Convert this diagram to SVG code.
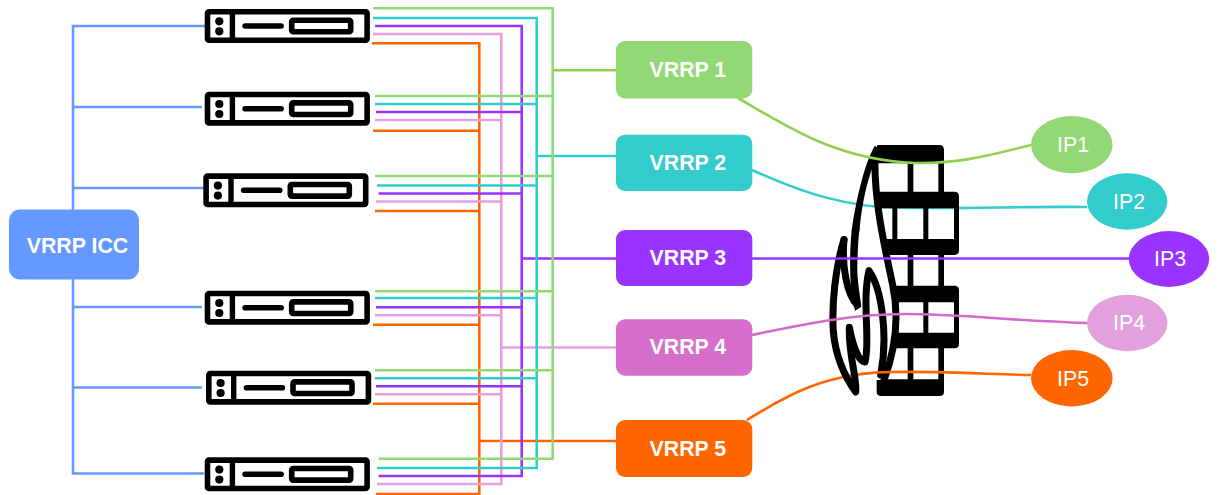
<svg xmlns="http://www.w3.org/2000/svg" xmlns:xlink="http://www.w3.org/1999/xlink" width="1218" height="495" viewBox="0 0 1218 495">
<style>
.ln{fill:none;stroke-width:2.6}
.cv{fill:none;stroke-width:2.6}
.t{font-family:"Liberation Sans",Arial,sans-serif;font-size:21.33px;fill:#fff}
.b{font-weight:bold}
.blk{fill:#000}
.fl{fill:none;stroke:#000;stroke-width:21;stroke-linecap:round;stroke-linejoin:round}
</style>
<defs>
<g id="srv">
<rect x="2.8" y="2.8" width="159.6" height="28.4" rx="1.5" fill="#fff" stroke="#000" stroke-width="5.6"/>
<rect x="25" y="3" width="5.4" height="28" fill="#000"/>
<circle cx="14.6" cy="12.3" r="4.1" fill="#000"/>
<circle cx="14.6" cy="22.3" r="4.1" fill="#000"/>
<rect x="37.6" y="14.2" width="41.6" height="5.6" rx="2.8" fill="#000"/>
<rect x="87" y="11.2" width="59" height="11.6" rx="1.5" fill="#fff" stroke="#000" stroke-width="5.6"/>
</g>
</defs>
<rect width="1218" height="495" fill="#fff"/>
<g id="connectors-back">
<path class="ln" stroke="#6699FF" d="M73,210V26H205M73,107H202M73,188H204M73,279V473.5H204M73,307H202M73,387.5H202"/>
<path class="ln" stroke="#FF6600" d="M372,43.3H479.3V494H376M373,130.7H479.3M375,211H479.3M373,324.7H479.3M373,403.7H479.3M479.3,441H616"/>
<path class="ln" stroke="#E6A0E0" d="M373,34H501.3V484H377M375,120H501.3M376,201.5H501.3M375,315.3H501.3M375,394.3H501.3M501.3,347.5H616"/>
<path class="ln" stroke="#9933FF" d="M375,26H521.7V476H378.7M376,112H521.7M378.7,193.5H521.7M376,307.3H521.7M376,386.3H521.7M521.7,258.5H616"/>
<path class="ln" stroke="#33CCCC" d="M373,18H536.7V468H377M375,104H536.7M377,185.5H536.7M375,298H536.7M375,378.3H536.7M536.7,156H616"/>
<path class="ln" stroke="#92D975" d="M373,8.3H552.7V458.7H378.7M375,96H552.7M375,176H552.7M375,291.3H552.7M375,370.3H552.7"/>
<path class="ln" stroke="#92D050" d="M552.7,70.3H616"/>
<path class="cv" stroke="#33CCCC" d="M752,170C790,187 830,203 880,207C940,210 1020,206 1087,207"/>
<path class="cv" stroke="#FF6600" d="M747,420C780,400 820,373 890,372"/>
</g>
<g id="server-1"><use href="#srv" xlink:href="#srv" x="204.7" y="9"/></g>
<g id="server-2"><use href="#srv" xlink:href="#srv" x="204.7" y="91.7"/></g>
<g id="server-3"><use href="#srv" xlink:href="#srv" x="203.3" y="173.3"/></g>
<g id="server-4"><use href="#srv" xlink:href="#srv" x="204.7" y="290.7"/></g>
<g id="server-5"><use href="#srv" xlink:href="#srv" x="206" y="370.7"/></g>
<g id="server-6"><use href="#srv" xlink:href="#srv" x="204.7" y="457.3"/></g>
<g id="firewall" transform="translate(820,135) scale(.33333)">
<path class="blk" fill-rule="evenodd" d="M172,30H358Q372,30 372,44V170H403Q417,170 417,184V346Q417,360 403,360H372V452H403Q417,452 417,466V626Q417,640 403,640H372V770Q372,783 358,783H184Q170,783 170,770V735H192C235,620 235,530 218,450C195,340 162,200 165,70Z
M174,85H263V170H174ZM280,85H355V170H280Z
M180,220H217V312H192ZM232,220H310V312H232ZM325,220H402V312H325Z
M205,360H263V452H224ZM280,360H355V452H280Z
M235,502H310V593H235ZM325,502H402V593H325Z
M225,640H263V733H200ZM280,640H355V733H280Z"/>
<path class="blk" d="M165,32C140,70 112,170 95,285C90,340 88,400 94,470L105,527L124,515C120,480 110,430 112,385C114,340 115,300 119,285C122,230 137,150 160,90L175,40Z"/>
<path class="fl" d="M72,314C45,400 35,510 40,590C48,680 85,740 107,771C112,730 85,660 88,577C100,640 118,680 135,681C152,620 125,500 147,407C185,460 205,600 182,720"/>
<path class="fl" d="M72,314C65,390 80,480 112,510"/>
<path class="fl" d="M165,70C162,200 195,340 218,450C235,530 235,620 192,735"/>
</g>
<g id="connectors-front">
<path class="cv" stroke="#92D050" d="M738,98C785,125 835,160 915,163C960,164 995,154 1031,145"/>
<path class="cv" stroke="#9933FF" d="M752,258.5H1129"/>
<path class="cv" stroke="#D36BCB" d="M752,335C800,325 850,314 905,314C960,314 1000,320 1087,323"/>
<path class="cv" stroke="#FF6600" d="M860,374C870,373 880,372 890,372C950,371 1000,375 1031,375"/>
</g>
<g id="vrrp-icc"><rect x="9" y="209.5" width="130" height="70" rx="11" fill="#6699FF"/><text class="t b" x="26.7" y="252.7">VRRP ICC</text></g>
<g id="vrrp-1"><rect x="616" y="41" width="136.3" height="57.5" rx="9" fill="#92D975"/><text class="t b" x="649.5" y="77">VRRP 1</text></g>
<g id="vrrp-2"><rect x="616" y="134.7" width="136.3" height="56.3" rx="9" fill="#33CCCC"/><text class="t b" x="649.5" y="170">VRRP 2</text></g>
<g id="vrrp-3"><rect x="616" y="230" width="136.3" height="56" rx="9" fill="#9933FF"/><text class="t b" x="649.5" y="265">VRRP 3</text></g>
<g id="vrrp-4"><rect x="616" y="319.3" width="136.3" height="56.4" rx="9" fill="#D56FCB"/><text class="t b" x="649.5" y="354">VRRP 4</text></g>
<g id="vrrp-5"><rect x="616" y="420" width="136.3" height="57" rx="9" fill="#FF6600"/><text class="t b" x="649.5" y="456">VRRP 5</text></g>
<g id="ip-1"><ellipse cx="1071.8" cy="144.7" rx="40.8" ry="28.6" fill="#92D975"/><text class="t" x="1057" y="152">IP1</text></g>
<g id="ip-2"><ellipse cx="1127.2" cy="201.5" rx="40.2" ry="28.2" fill="#33CCCC"/><text class="t" x="1113" y="209">IP2</text></g>
<g id="ip-3"><ellipse cx="1169" cy="259" rx="40.2" ry="28" fill="#9933FF"/><text class="t" x="1154" y="266">IP3</text></g>
<g id="ip-4"><ellipse cx="1127.2" cy="323" rx="40.2" ry="28.2" fill="#E2A0DC"/><text class="t" x="1113" y="330">IP4</text></g>
<g id="ip-5"><ellipse cx="1071.8" cy="378.2" rx="40.8" ry="28.2" fill="#FF6600"/><text class="t" x="1057" y="386">IP5</text></g>
</svg>
